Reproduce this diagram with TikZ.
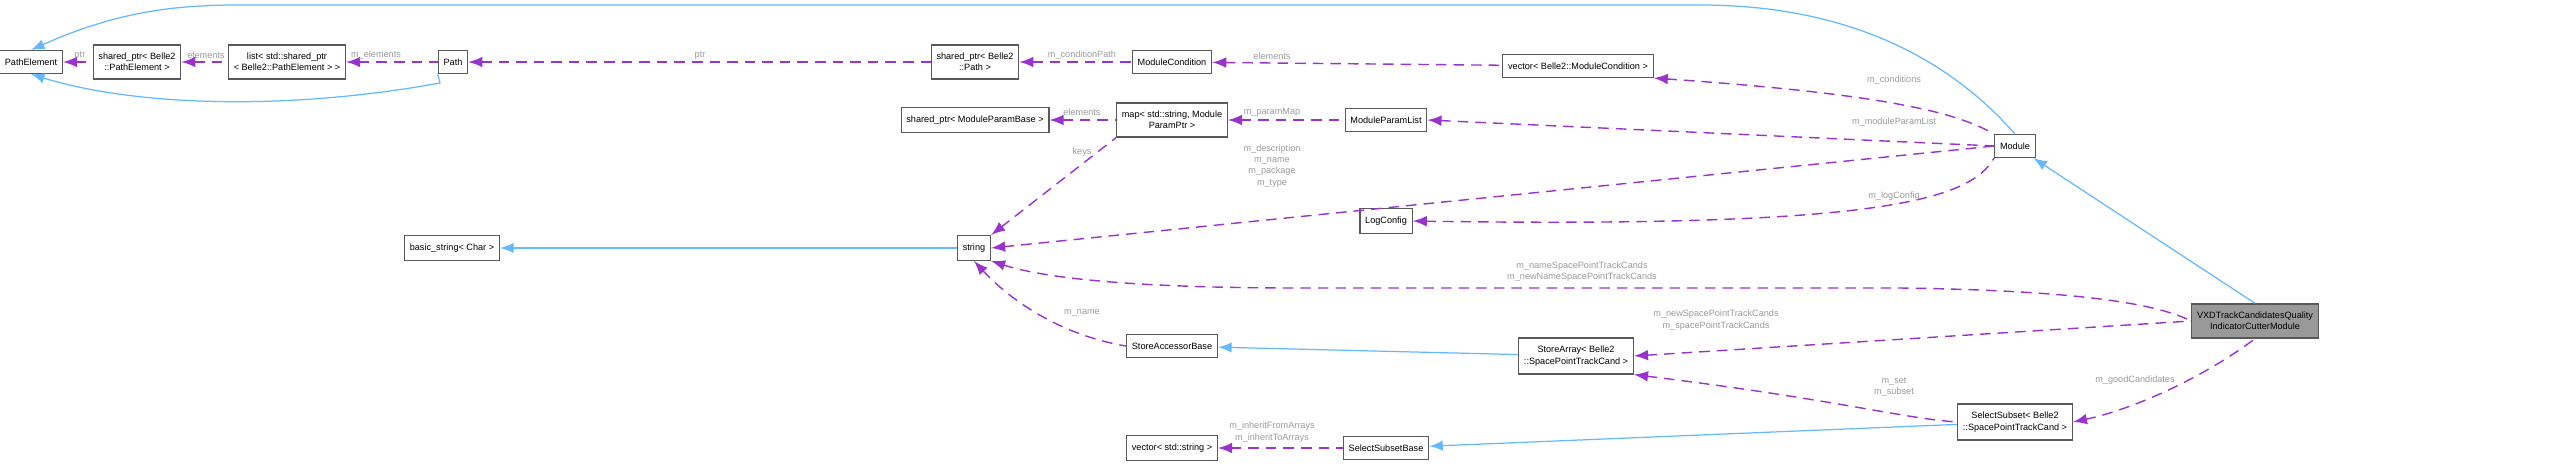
\documentclass[tikz,border=0pt]{standalone}
\usepackage{fontspec}
\setmainfont{Liberation Sans}
\usepackage{xcolor}
\usepackage{tikz}
\usetikzlibrary{arrows,positioning}

\definecolor{inhblue}{HTML}{63B8FF}
\definecolor{usepurple}{HTML}{9A32CD}
\definecolor{lblgray}{HTML}{9A9A9A}

\begin{document}
\begin{tikzpicture}[x=0.01cm, y=-0.01cm,
    cls/.style={rectangle, draw=gray!70!black, fill=white, line width=0.35pt,
                inner xsep=1.5pt, inner ysep=2.3pt, align=center,
                font=\fontsize{2.6}{3.2}\selectfont},
    main/.style={cls, fill=gray!80},
    inh/.style={<-, >=latex, draw=inhblue, line width=0.35pt},
    use/.style={<-, >=latex, draw=usepurple, densely dashed, line width=0.4pt},
    lbl/.style={font=\fontsize{2.6}{3.2}\selectfont, text=lblgray, align=center, inner sep=0pt}
  ]
  \useasboundingbox (0,0) rectangle (2560,466);

  % classes, left to right
  \node[cls] (pe) at (31,62) {PathElement};
  \node[cls] (spe) at (137,62) {shared\_ptr\textless{} Belle2\\::PathElement \textgreater};
  \node[cls] (lst) at (287,62) {list\textless{} std::shared\_ptr\\\textless{} Belle2::PathElement \textgreater{} \textgreater};
  \node[cls] (path) at (453,62) {Path};
  \node[cls] (spath) at (975,62) {shared\_ptr\textless{} Belle2\\::Path \textgreater};
  \node[cls] (mcond) at (1172,62) {ModuleCondition};
  \node[cls] (vcond) at (1578,66) {vector\textless{} Belle2::ModuleCondition \textgreater};
  \node[cls] (spmb) at (975,120) {shared\_ptr\textless{} ModuleParamBase \textgreater};
  \node[cls] (pmap) at (1172,120) {map\textless{} std::string, Module\\ParamPtr \textgreater};
  \node[cls] (mpl) at (1386,120) {ModuleParamList};
  \node[cls] (mod) at (2015,146) {Module};
  \node[cls] (logc) at (1386,221) {LogConfig};
  \node[cls] (bstr) at (452,248) {basic\_string\textless{} Char \textgreater};
  \node[cls] (str) at (974,248) {string};
  \node[cls] (sab) at (1172,346) {StoreAccessorBase};
  \node[cls] (sarr) at (1576,356) {StoreArray\textless{} Belle2\\::SpacePointTrackCand \textgreater};
  \node[main] (vxd) at (2255,321) {VXDTrackCandidatesQuality\\IndicatorCutterModule};
  \node[cls] (ssub) at (2015,422) {SelectSubset\textless{} Belle2\\::SpacePointTrackCand \textgreater};
  \node[cls] (ssb) at (1386,448) {SelectSubsetBase};
  \node[cls] (vstr) at (1172,448) {vector\textless{} std::string \textgreater};

  % inheritance
  \draw[inh] (pe.north) .. controls (120,10) and (180,5) .. (240,5) -- (1700,5)
             .. controls (1850,5) and (1950,60) .. (mod.north);
  \draw[inh] (pe.south) .. controls (130,105) and (280,112) .. (440,83)
             -- (path.south west);
  \draw[inh] (mod) -- (vxd.north);
  \draw[inh] (bstr) -- (str);
  \draw[inh] (sab) -- (sarr);
  \draw[inh] (ssb) -- (ssub);

  % usage
  \draw[use] (pe) -- (spe);
  \draw[use] (spe) -- (lst);
  \draw[use] (lst) -- (path);
  \draw[use] (path) -- (spath);
  \draw[use] (spath) -- (mcond);
  \draw[use] (mcond) -- (vcond);
  \draw[use] (spmb) -- (pmap);
  \draw[use] (pmap) -- (mpl);
  \draw[use] (vcond.south east) .. controls (1900,95) and (1960,115) .. (mod.north west);
  \draw[use] (mpl.east) -- (mod.west);
  \draw[use] (logc.east) .. controls (1880,228) and (1970,200) .. (mod.south west);
  \draw[use] (str.north east) -- (pmap.south west);
  \draw[use] (str.east) -- (mod.west);
  \draw[use] (str.south east) .. controls (1050,280) and (1150,288) .. (1300,288)
             -- (1900,288) .. controls (2050,290) and (2150,300) .. (vxd.west);
  \draw[use] (str.south) .. controls (1010,300) and (1060,335) .. (sab.west);
  \draw[use] (sarr.east) -- (vxd.west);
  \draw[use] (sarr.south east) .. controls (1840,400) and (1900,418) .. (ssub.west);
  \draw[use] (ssub.east) .. controls (2130,410) and (2200,380) .. (vxd.south);
  \draw[use] (vstr) -- (ssb);

  % labels
  \node[lbl] (lptr) at (80,55) {ptr};
  \node[lbl] (lel1) at (206,55) {elements};
  \node[lbl] (lmel) at (376,55) {m\_elements};
  \node[lbl] (lptr2) at (700,55) {ptr};
  \node[lbl] (lcp) at (1082,55) {m\_conditionPath};
  \node[lbl] (lel2) at (1272,56) {elements};
  \node[lbl] (lel3) at (1082,112) {elements};
  \node[lbl] (lpm) at (1272,112) {m\_paramMap};
  \node[lbl] (lkeys) at (1082,152) {keys};
  \node[lbl] (ldesc) at (1272,166) {m\_description\\m\_name\\m\_package\\m\_type};
  \node[lbl] (lcond) at (1894,80) {m\_conditions};
  \node[lbl] (lmpl) at (1894,122) {m\_moduleParamList};
  \node[lbl] (llog) at (1894,196) {m\_logConfig};
  \node[lbl] (lnsp) at (1582,272) {m\_nameSpacePointTrackCands\\m\_newNameSpacePointTrackCands};
  \node[lbl] (lnew) at (1716,320) {m\_newSpacePointTrackCands\\m\_spacePointTrackCands};
  \node[lbl] (lname) at (1082,313) {m\_name};
  \node[lbl] (lset) at (1894,387) {m\_set\\m\_subset};
  \node[lbl] (lgood) at (2135,380) {m\_goodCandidates};
  \node[lbl] (linh) at (1272,432) {m\_inheritFromArrays\\m\_inheritToArrays};
\end{tikzpicture}
\end{document}
